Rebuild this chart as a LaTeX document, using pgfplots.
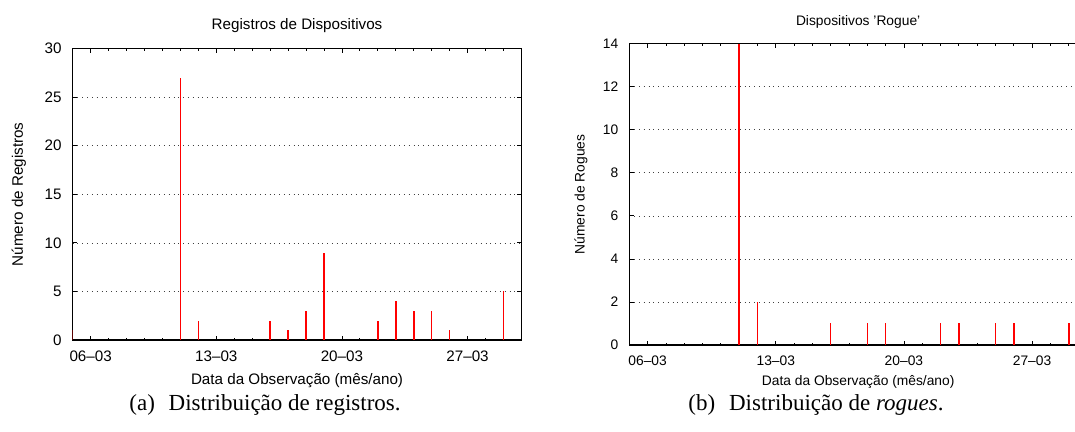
\documentclass[border=0pt]{standalone}
\usepackage{pgfplots}
\pgfplotsset{compat=1.18}
\usepackage{fontspec}
\setmainfont{Liberation Sans}
\newfontfamily\capfont{Liberation Serif}
\begin{document}
\begin{tikzpicture}
\pgfplotsset{
  gp/.style={
    scale only axis,
    xmin=5, xmax=30,
    ymin=0,
    xtick={6,13,20,27},
    xticklabels={06--03,13--03,20--03,27--03},
    minor xtick={5,...,30},
    ymajorgrids,
    major grid style={dotted, black!75, line width=0.35pt},
    axis line style={black, line width=0.65pt},
    tick style={black, line width=0.4pt},
    major tick length=2.2pt,
    minor tick length=1.2pt,
    /pgf/number format/assume math mode=true,
    xticklabel shift=2pt,
    yticklabel shift=2pt,
    every axis title/.style={at={(0.5,1)}, anchor=center},
    every axis y label/.style={rotate=90, anchor=center},
  },
}
% Registros de Dispositivos
\begin{axis}[gp,
  at={(36.35pt,-170pt)}, anchor=south west,
  width=224.35pt, height=145.7pt,
  ymax=30, ytick={0,5,...,30},
  font=\fontsize{7.6}{9}\selectfont,
  title={Registros de Dispositivos},
  title style={yshift=11.4pt},
  xlabel={Data da Observação (mês/ano)},
  xlabel style={at={(0.5,0)}, anchor=center, yshift=-20.5pt},
  ylabel={Número de Registros},
  ylabel style={at={([xshift=-26.9pt]axis description cs:0,0.5)}},
]
\addplot[ycomb, red, line width=0.8pt, no marks] coordinates {
  (5,1) (11,27) (12,2) (16,2) (17,1) (18,3) (19,9)
  (22,2) (23,4) (24,3) (25,3) (26,1) (29,5)
};
\end{axis}
% Dispositivos 'Rogue'
\begin{axis}[gp,
  at={(314.65pt,-172.5pt)}, anchor=south west,
  width=228.85pt, height=150.65pt,
  ymax=14, ytick={0,2,...,14},
  font=\fontsize{6.9}{8}\selectfont,
  title={Dispositivos 'Rogue'},
  title style={yshift=10.75pt},
  xlabel={Data da Observação (mês/ano)},
  xlabel style={at={(0.5,0)}, anchor=center, yshift=-18.3pt},
  ylabel={Número de Rogues},
  ylabel style={at={([xshift=-24.2pt]axis description cs:0,0.5)}},
]
\addplot[ycomb, red, line width=0.8pt, no marks] coordinates {
  (11,14) (12,2) (16,1) (18,1) (19,1) (22,1) (23,1)
  (25,1) (26,1) (29,1)
};
\end{axis}
\node[font=\capfont\fontsize{11.5}{14}\selectfont] at (132.5pt,-202.5pt)
  {(a)\hspace{0.6em}Distribuição de registros.};
\node[font=\capfont\fontsize{11.5}{14}\selectfont] at (408pt,-202.5pt)
  {(b)\hspace{0.6em}Distribuição de \textit{rogues}.};
\pgfresetboundingbox
\useasboundingbox (0,0) rectangle (537.5pt,-216pt);
\end{tikzpicture}
\end{document}
